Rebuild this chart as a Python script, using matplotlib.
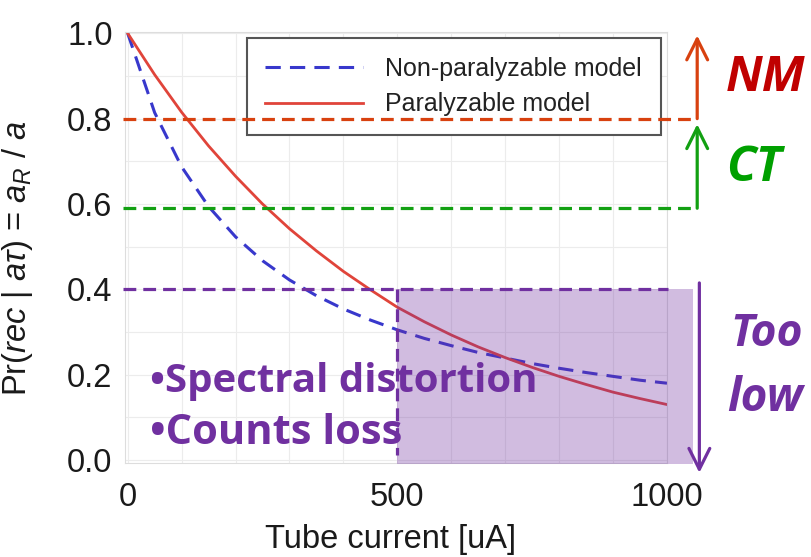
import matplotlib
matplotlib.use("Agg")
import matplotlib.pyplot as plt
from matplotlib.patches import Rectangle
from matplotlib.ticker import MultipleLocator

current = [0, 50, 100, 150, 200, 250, 300, 350, 400, 450, 500,
           550, 600, 650, 700, 750, 800, 850, 900, 950, 1000]
non_paralyzable = [1.0, 0.814, 0.687, 0.594, 0.523, 0.467, 0.422, 0.385, 0.354, 0.328, 0.305,
                   0.285, 0.268, 0.252, 0.239, 0.226, 0.215, 0.205, 0.196, 0.187, 0.180]
paralyzable = [1.0, 0.903, 0.815, 0.736, 0.665, 0.600, 0.542, 0.490, 0.442, 0.399, 0.358,
               0.324, 0.293, 0.265, 0.240, 0.217, 0.196, 0.177, 0.159, 0.144, 0.130]

# threshold levels
nm_level = 0.8
ct_level = 0.59
low_level = 0.4
low_start = 500

plt.rcParams['font.family'] = ['Liberation Sans', 'DejaVu Sans']
plt.rcParams['mathtext.fontset'] = 'custom'
plt.rcParams['mathtext.it'] = 'Liberation Sans:italic'
plt.rcParams['mathtext.rm'] = 'Liberation Sans'

fig = plt.figure(figsize=(8.11, 5.57), dpi=100)
ax = fig.add_axes([125 / 811, 1 - 463 / 557, 542 / 811, 431 / 557])

ax.plot(current, non_paralyzable, linestyle=(0, (5, 3)), color="#3838cc", lw=2.2,
        label="Non-paralyzable model")
ax.plot(current, paralyzable, color="#e0443a", lw=2.0, label="Paralyzable model")

ax.set_xlim(-5, 1000)
ax.set_ylim(-0.007, 1.003)
ax.set_xticks([0, 500, 1000])
ax.set_yticks([0.0, 0.2, 0.4, 0.6, 0.8, 1.0])
ax.set_yticklabels(["0.0", "0.2", "0.4", "0.6", "0.8", "1.0"])
ax.xaxis.set_minor_locator(MultipleLocator(100))
ax.yaxis.set_minor_locator(MultipleLocator(0.1))
ax.grid(True, which="both", color="#ececec", lw=0.8)
ax.set_axisbelow(True)
ax.tick_params(which="both", length=0, labelsize=23.5, colors="#1a1a1a")
ax.tick_params(axis="x", pad=14)
ax.tick_params(axis="y", pad=9)
for s in ax.spines.values():
    s.set_color("#dddddd")

ax.set_xlabel("Tube current [uA]", fontsize=23.5, color="#1a1a1a")
ax.set_ylabel(r"Pr($rec$ | $a\tau$) = $a_R$ / $a$", fontsize=23.5, color="#1a1a1a")
ax.xaxis.set_label_coords(0.49, -0.142)
ax.yaxis.set_label_coords(-0.166, 0.476)

leg = ax.legend(loc="upper right", fontsize=18, handlelength=3.9, frameon=True, fancybox=False,
                borderpad=0.75, labelspacing=0.45, handletextpad=0.9, borderaxespad=0.25,
                framealpha=1.0)
leg.get_frame().set_edgecolor("#555555")
leg.get_frame().set_linewidth(1.5)
for t in leg.get_texts():
    t.set_color("#222222")

# threshold overlays
orange = "#d8410f"
green = "#12a012"
purple = "#7030a0"
dash = (0, (4, 2.2))

ax.plot([-9, 1056], [nm_level, nm_level], color=orange, lw=2.3, ls=dash, clip_on=False, zorder=6)
ax.plot([-9, 1056], [ct_level, ct_level], color=green, lw=2.3, ls=dash, clip_on=False, zorder=6)
ax.plot([-9, 1002], [low_level, low_level], color=purple, lw=2.3, ls=dash, clip_on=False, zorder=6)

ax.add_patch(Rectangle((low_start, -0.01), 1049 - low_start, low_level + 0.01,
                       facecolor=purple, alpha=0.32, edgecolor="none", clip_on=False, zorder=3))
ax.plot([low_start, low_start], [low_level, 0.012], color=purple, lw=2.3, ls=dash, zorder=6)

arrow = "->,head_length=0.5,head_width=0.25"
ax.annotate("", xy=(1056, 0.995), xytext=(1056, nm_level),
            arrowprops=dict(arrowstyle=arrow, color=orange, lw=2.3, mutation_scale=30,
                            shrinkA=0, shrinkB=0), annotation_clip=False)
ax.annotate("", xy=(1056, 0.787), xytext=(1056, ct_level),
            arrowprops=dict(arrowstyle=arrow, color=green, lw=2.3, mutation_scale=30,
                            shrinkA=0, shrinkB=0), annotation_clip=False)
ax.annotate("", xy=(1060, -0.03), xytext=(1060, 0.415),
            arrowprops=dict(arrowstyle=arrow, color=purple, lw=2.3, mutation_scale=30,
                            shrinkA=0, shrinkB=0), annotation_clip=False)

big = dict(family=["Open Sans", "DejaVu Sans"], fontweight="bold", fontstyle="italic",
           va="center", ha="left", clip_on=False)
ax.text(1108, 0.893, "NM", color="#c00000", fontsize=35, **big)
ax.text(1110, 0.684, "CT", color="#00a000", fontsize=35, **big)
ax.text(1118, 0.293, "Too", color=purple, fontsize=32, **big)
ax.text(1112, 0.145, "low", color=purple, fontsize=33, **big)

note = dict(family=["Open Sans", "DejaVu Sans"], fontweight="bold",
            va="center", ha="left", color=purple, zorder=7)
ax.text(41, 0.185, "\u2022Spectral distortion", fontsize=29, **note)
ax.text(41, 0.063, "\u2022Counts loss", fontsize=30, **note)

fig.savefig("out.png", dpi=100)
